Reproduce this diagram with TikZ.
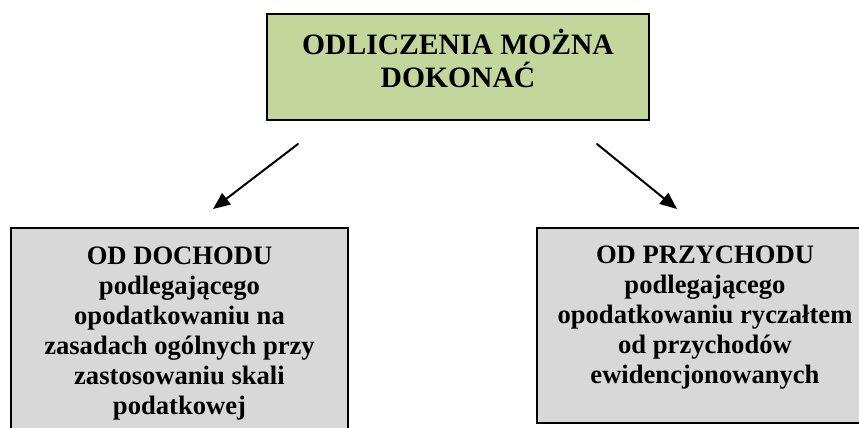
\documentclass[tikz,border=0pt]{standalone}
\usepackage{fontspec}
\setmainfont{Liberation Serif}
\usetikzlibrary{arrows.meta}
\definecolor{zielony}{RGB}{195,214,155}
\definecolor{szary}{RGB}{216,216,216}

\begin{document}
\begin{tikzpicture}[x=1pt,y=-1pt,line cap=round]
	\tikzstyle{ramka}=[draw=black,line width=2pt,align=center,inner sep=0pt,anchor=north];
	\tikzstyle{duzy}=[font=\bfseries\fontsize{29.6pt}{33pt}\selectfont];
	\tikzstyle{maly}=[font=\bfseries\fontsize{26.6pt}{30pt}\selectfont];
	\tikzstyle{strzalka}=[line width=2pt,-{Triangle[length=17pt,width=14pt]}];
	\useasboundingbox (0,0) rectangle (859,428);
	\clip (0,0) rectangle (859,428);
	%% boxes
	\node[ramka,duzy,fill=zielony,minimum width=382pt] (gora) at (458,13)
		{\rule{0pt}{41pt}ODLICZENIA MOŻNA\\DOKONAĆ\rule[-32pt]{0pt}{32pt}};
	\node[ramka,maly,fill=szary,minimum width=337pt] (lewy) at (179.5,227)
		{\rule{0pt}{36pt}OD DOCHODU\\podlegającego\\opodatkowaniu na\\zasadach ogólnych przy\\zastosowaniu skali\\podatkowej\rule[-40pt]{0pt}{40pt}};
	\node[ramka,maly,fill=szary,minimum width=337pt] (prawy) at (705,227)
		{\rule{0pt}{35pt}OD PRZYCHODU\\podlegającego\\opodatkowaniu ryczałtem\\od przychodów\\ewidencjonowanych\rule[-40pt]{0pt}{40pt}};
	%% arrows
	\coordinate (l0) at (298,144);
	\coordinate (l1) at (213,209);
	\coordinate (p0) at (597,144);
	\coordinate (p1) at (677,209);
	\draw[strzalka] (l0) -- (l1);
	\draw[strzalka] (p0) -- (p1);
\end{tikzpicture}
\end{document}
